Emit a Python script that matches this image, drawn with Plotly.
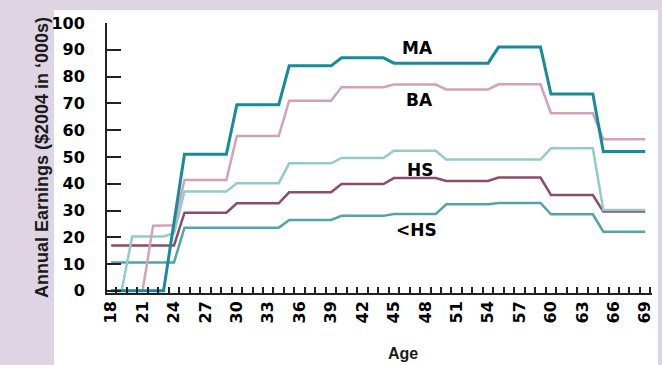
import plotly.graph_objects as go

# ---------------- data ----------------
ages = list(range(18, 70))

ma = [0, 0, 0, 0, 0, 0, 25.5,
      51, 51, 51, 51, 51,
      69.5, 69.5, 69.5, 69.5, 69.5,
      84, 84, 84, 84, 84,
      87, 87, 87, 87, 87,
      85, 85, 85, 85, 85,
      85, 85, 85, 85, 85,
      91, 91, 91, 91, 91,
      73.5, 73.5, 73.5, 73.5, 73.5,
      52, 52, 52, 52, 52]

ba = [0, 0, 0, 0, 24.3, 24.3, 24.5,
      41.4, 41.4, 41.4, 41.4, 41.4,
      57.8, 57.8, 57.8, 57.8, 57.8,
      71, 71, 71, 71, 71,
      76, 76, 76, 76, 76,
      77, 77, 77, 77, 77,
      75.2, 75.2, 75.2, 75.2, 75.2,
      77.1, 77.1, 77.1, 77.1, 77.1,
      66.3, 66.3, 66.3, 66.3, 66.3,
      56.6, 56.6, 56.6, 56.6, 56.6]

some_college = [0, 0, 20.3, 20.3, 20.3, 20.3, 21.5,
                37.1, 37.1, 37.1, 37.1, 37.1,
                40.2, 40.2, 40.2, 40.2, 40.2,
                47.6, 47.6, 47.6, 47.6, 47.6,
                49.6, 49.6, 49.6, 49.6, 49.6,
                52.3, 52.3, 52.3, 52.3, 52.3,
                49, 49, 49, 49, 49,
                49, 49, 49, 49, 49,
                53.2, 53.2, 53.2, 53.2, 53.2,
                30.2, 30.2, 30.2, 30.2, 30.2]

hs = [16.9, 16.9, 16.9, 16.9, 16.9, 16.9, 16.9,
      29.2, 29.2, 29.2, 29.2, 29.2,
      32.7, 32.7, 32.7, 32.7, 32.7,
      36.8, 36.8, 36.8, 36.8, 36.8,
      39.9, 39.9, 39.9, 39.9, 39.9,
      42.1, 42.1, 42.1, 42.1, 42.1,
      41, 41, 41, 41, 41,
      42.3, 42.3, 42.3, 42.3, 42.3,
      35.8, 35.8, 35.8, 35.8, 35.8,
      29.6, 29.6, 29.6, 29.6, 29.6]

lt_hs = [10.6, 10.6, 10.6, 10.6, 10.6, 10.6, 10.6,
         23.6, 23.6, 23.6, 23.6, 23.6,
         23.6, 23.6, 23.6, 23.6, 23.6,
         26.5, 26.5, 26.5, 26.5, 26.5,
         28.0, 28.0, 28.0, 28.0, 28.0,
         28.7, 28.7, 28.7, 28.7, 28.7,
         32.3, 32.3, 32.3, 32.3, 32.3,
         32.8, 32.8, 32.8, 32.8, 32.8,
         28.6, 28.6, 28.6, 28.6, 28.6,
         22.1, 22.1, 22.1, 22.1, 22.1]

x_tick_vals = list(range(18, 70, 3))
y_tick_vals = list(range(0, 101, 10))
minor_tick_vals = [a + 0.5 for a in ages]

labels = ["MA", "BA", "HS", "<HS"]
label_x = [47.3, 47.4, 47.5, 47.2]
label_y = [90.7, 71.1, 45.3, 22.9]

# ---------------- layout geometry ----------------
W, H = 662, 365
L, R, T, B = 107, 10, 23, 72
pw, ph = W - L - R, H - T - B

def px_x(px):
    return (px - L) / pw

def px_y(py):
    return (H - B - py) / ph

BG = "#ded4e4"
FONT = "DejaVu Sans"

fig = go.Figure()

series = [
    (lt_hs, "#4ea5aa", 2.5),
    (hs, "#8d4b6c", 2.5),
    (some_college, "#92cbcb", 2.5),
    (ba, "#d3a2b6", 2.5),
    (ma, "#168c98", 3),
]
for vals, color, width in series:
    fig.add_trace(go.Scatter(x=ages, y=vals, mode="lines",
                             line=dict(color=color, width=width),
                             showlegend=False, hoverinfo="skip"))

annotations = []
for t, ax_, ay_ in zip(labels, label_x, label_y):
    annotations.append(dict(x=ax_, y=ay_, xref="x", yref="y", text=t,
                            showarrow=False,
                            font=dict(family=FONT, size=17, color="black", weight="bold")))

annotations.append(dict(x=px_x(30), y=px_y(158), xref="paper", yref="paper",
                        text="Annual Earnings ($2004 in \u2018000s)", textangle=-90,
                        showarrow=False,
                        font=dict(family="Liberation Sans Narrow, Liberation Sans", size=18,
                                  color="#1a1a1a", weight="bold")))
annotations.append(dict(x=px_x(403), y=px_y(364), xref="paper", yref="paper",
                        text="Age", showarrow=False, yanchor="bottom",
                        font=dict(family="Liberation Sans Narrow, Liberation Sans", size=16,
                                  color="#1a1a1a", weight="bold")))

fig.update_layout(
    width=W, height=H,
    margin=dict(l=L, r=R, t=T, b=B, pad=0, autoexpand=False),
    paper_bgcolor=BG,
    plot_bgcolor="rgba(0,0,0,0)",
    annotations=annotations,
    shapes=[dict(type="rect", xref="paper", yref="paper",
                 x0=px_x(54), x1=px_x(658), y0=px_y(366), y1=px_y(10),
                 fillcolor="white", line=dict(width=0), layer="below")],
    xaxis=dict(range=[17.6, 69.65], tickvals=x_tick_vals, ticks="",
               tickangle=-90, showline=True, linecolor="#222", linewidth=1.5,
               showgrid=False, zeroline=False, automargin=False,
               tickfont=dict(family=FONT, size=16, color="black", weight="bold"),
               minor=dict(tickvals=minor_tick_vals, ticks="inside", ticklen=6,
                          tickwidth=1.5, tickcolor="#222", showgrid=False)),
    yaxis=dict(range=[-0.8, 100], tickvals=y_tick_vals, ticks="inside",
               ticklen=14, tickwidth=2, tickcolor="#222",
               showline=True, linecolor="#222", linewidth=2, automargin=False,
               showgrid=False, zeroline=False, ticklabelstandoff=17,
               tickfont=dict(family=FONT, size=16, color="black", weight="bold")),
)

fig.write_html("out.html",
               config={"displayModeBar": False},
               post_script="document.body.style.margin='0';document.body.style.padding='0';")
